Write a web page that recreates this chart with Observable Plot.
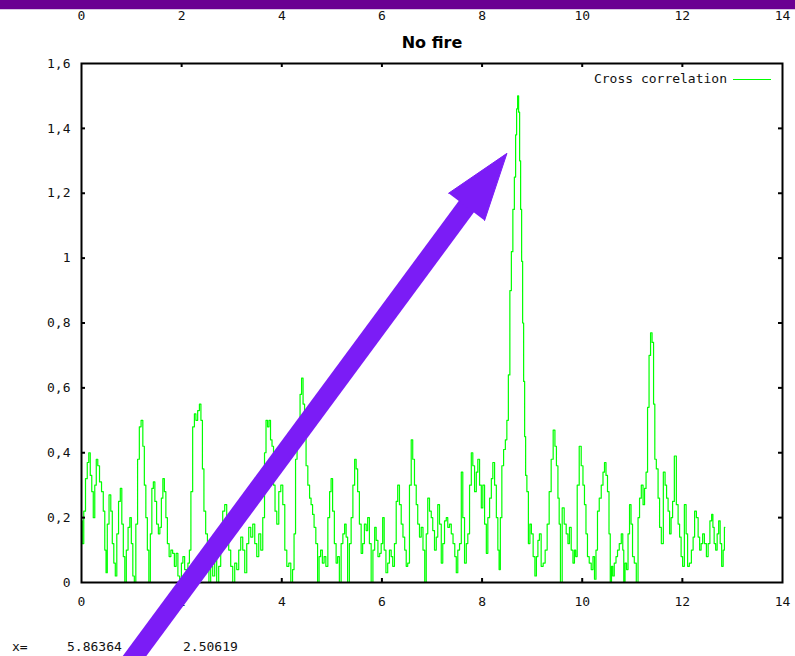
<!DOCTYPE html>
<html>
<head>
<meta charset="utf-8">
<script src="https://cdn.jsdelivr.net/npm/d3@7"></script>
<script src="https://cdn.jsdelivr.net/npm/@observablehq/plot@0.6"></script>
<style>
  html, body { margin: 0; padding: 0; background: #fff; overflow: hidden; }
  #wrap { position: relative; width: 795px; height: 656px; }
  .band { position: absolute; left: 0; top: 0; width: 795px; height: 9px; background: #6b0092; border-bottom: 1px solid #d9c4e3; }
  .txt { position: absolute; font-family: "DejaVu Sans Mono", monospace; font-size: 13px; line-height: 13px; color: #111; white-space: nowrap; }
  .legline { position: absolute; height: 1px; background: #00ff00; }
</style>
</head>
<body>
<div id="wrap"></div>
<script>
// ---- data ----
const seriesName = "Cross correlation";
const title = "No fire";
const lag = [0.00,0.03,0.06,0.10,0.13,0.16,0.19,0.22,0.25,0.28,0.31,0.34,0.38,0.42,0.45,0.48,0.50,0.53,0.57,0.60,0.63,0.66,0.69,0.72,0.76,0.79,0.82,0.85,0.88,0.91,0.95,0.98,1.01,1.04,1.07,1.10,1.14,1.17,1.21,1.24,1.27,1.30,1.33,1.36,1.39,1.42,1.45,1.48,1.52,1.55,1.58,1.61,1.64,1.67,1.70,1.73,1.77,1.80,1.84,1.87,1.91,1.94,1.98,2.01,2.04,2.08,2.11,2.14,2.17,2.20,2.24,2.27,2.30,2.34,2.37,2.40,2.43,2.46,2.50,2.53,2.56,2.60,2.64,2.68,2.72,2.76,2.80,2.84,2.88,2.92,2.96,3.00,3.04,3.08,3.12,3.16,3.20,3.24,3.28,3.32,3.36,3.40,3.44,3.48,3.52,3.56,3.60,3.64,3.67,3.70,3.73,3.76,3.79,3.82,3.85,3.88,3.92,3.96,4.00,4.04,4.08,4.12,4.16,4.20,4.23,4.26,4.29,4.32,4.35,4.38,4.41,4.44,4.47,4.50,4.54,4.57,4.60,4.63,4.66,4.70,4.73,4.76,4.79,4.83,4.86,4.90,4.94,4.97,5.00,5.03,5.07,5.10,5.13,5.17,5.20,5.24,5.27,5.30,5.33,5.37,5.40,5.44,5.47,5.50,5.53,5.57,5.60,5.63,5.67,5.70,5.73,5.77,5.80,5.84,5.87,5.90,5.94,5.97,6.00,6.03,6.06,6.10,6.13,6.17,6.20,6.23,6.27,6.30,6.33,6.37,6.40,6.44,6.47,6.50,6.53,6.57,6.60,6.63,6.67,6.70,6.73,6.77,6.80,6.84,6.87,6.90,6.93,6.97,7.00,7.03,7.07,7.10,7.13,7.17,7.20,7.23,7.27,7.30,7.33,7.37,7.40,7.44,7.47,7.50,7.53,7.57,7.60,7.63,7.67,7.70,7.73,7.77,7.80,7.83,7.87,7.90,7.93,7.97,8.00,8.03,8.07,8.10,8.13,8.17,8.20,8.23,8.27,8.30,8.33,8.35,8.38,8.41,8.45,8.48,8.51,8.54,8.57,8.60,8.63,8.66,8.68,8.70,8.72,8.74,8.76,8.78,8.80,8.82,8.84,8.86,8.88,8.91,8.94,8.97,9.00,9.04,9.07,9.10,9.13,9.16,9.20,9.24,9.28,9.32,9.36,9.40,9.44,9.47,9.50,9.53,9.55,9.58,9.62,9.66,9.70,9.73,9.76,9.80,9.83,9.86,9.88,9.92,9.96,10.00,10.03,10.06,10.09,10.12,10.16,10.20,10.23,10.26,10.29,10.32,10.36,10.40,10.43,10.46,10.49,10.52,10.55,10.57,10.60,10.62,10.66,10.69,10.72,10.76,10.80,10.82,10.84,10.87,10.90,10.93,10.96,10.99,11.02,11.06,11.10,11.13,11.16,11.20,11.23,11.26,11.29,11.32,11.35,11.38,11.41,11.44,11.46,11.50,11.53,11.56,11.60,11.64,11.67,11.70,11.73,11.76,11.79,11.82,11.86,11.90,11.93,11.96,11.99,12.02,12.06,12.09,12.12,12.16,12.20,12.23,12.26,12.30,12.33,12.36,12.39,12.42,12.46,12.50,12.53,12.57,12.60,12.62,12.65,12.68,12.71,12.74,12.77,12.80,12.83,12.85];
const corr = [0.19,0.12,0.22,0.32,0.37,0.40,0.33,0.28,0.20,0.30,0.38,0.36,0.31,0.28,0.22,0.10,0.03,0.18,0.27,0.22,0.12,0.06,0.02,0.15,0.25,0.29,0.18,0.08,0.00,0.10,0.17,0.20,0.12,0.02,0.00,0.18,0.38,0.48,0.50,0.42,0.30,0.20,0.10,0.00,0.15,0.29,0.31,0.25,0.18,0.15,0.17,0.26,0.32,0.28,0.20,0.12,0.08,0.10,0.09,0.05,0.09,0.02,0.00,0.06,0.08,0.04,0.02,0.06,0.10,0.28,0.48,0.52,0.50,0.53,0.55,0.50,0.35,0.22,0.15,0.08,0.00,0.05,0.02,0.08,0.00,0.05,0.15,0.22,0.24,0.15,0.10,0.05,0.00,0.06,0.04,0.10,0.14,0.10,0.03,0.12,0.17,0.14,0.18,0.12,0.08,0.15,0.10,0.20,0.40,0.50,0.48,0.50,0.44,0.42,0.30,0.22,0.18,0.28,0.30,0.24,0.10,0.05,0.06,0.00,0.04,0.15,0.38,0.48,0.44,0.58,0.63,0.55,0.45,0.36,0.30,0.26,0.24,0.21,0.17,0.12,0.00,0.08,0.10,0.06,0.08,0.05,0.20,0.28,0.32,0.22,0.12,0.06,0.08,0.00,0.12,0.15,0.18,0.14,0.00,0.12,0.20,0.30,0.38,0.35,0.28,0.18,0.09,0.12,0.18,0.16,0.20,0.12,0.00,0.10,0.17,0.13,0.08,0.09,0.12,0.20,0.10,0.03,0.06,0.10,0.08,0.05,0.12,0.25,0.30,0.24,0.18,0.14,0.10,0.05,0.06,0.30,0.44,0.38,0.30,0.24,0.18,0.14,0.17,0.10,0.00,0.15,0.26,0.22,0.20,0.16,0.10,0.14,0.24,0.18,0.06,0.12,0.19,0.20,0.17,0.18,0.15,0.12,0.08,0.03,0.10,0.12,0.34,0.20,0.06,0.12,0.15,0.30,0.40,0.36,0.28,0.34,0.38,0.30,0.23,0.30,0.18,0.09,0.20,0.26,0.32,0.37,0.30,0.20,0.10,0.04,0.20,0.36,0.41,0.44,0.50,0.64,0.90,1.02,1.15,1.25,1.38,1.46,1.50,1.45,1.30,1.15,0.99,0.80,0.62,0.45,0.33,0.28,0.12,0.18,0.15,0.08,0.02,0.08,0.13,0.15,0.05,0.06,0.10,0.18,0.28,0.38,0.47,0.42,0.36,0.26,0.18,0.00,0.23,0.18,0.15,0.12,0.17,0.10,0.06,0.10,0.08,0.30,0.42,0.36,0.30,0.24,0.15,0.08,0.06,0.04,0.08,0.01,0.10,0.22,0.26,0.30,0.34,0.37,0.33,0.28,0.15,0.00,0.05,0.02,0.06,0.08,0.10,0.12,0.15,0.10,0.00,0.06,0.04,0.15,0.24,0.18,0.08,0.06,0.00,0.20,0.26,0.30,0.24,0.29,0.34,0.54,0.70,0.77,0.74,0.55,0.38,0.35,0.26,0.17,0.12,0.34,0.30,0.26,0.22,0.15,0.20,0.25,0.39,0.24,0.18,0.14,0.08,0.05,0.24,0.15,0.05,0.06,0.10,0.14,0.22,0.20,0.14,0.10,0.12,0.15,0.12,0.08,0.12,0.19,0.21,0.17,0.12,0.10,0.15,0.19,0.12,0.05,0.10,0.17];

const xTicks = [0, 2, 4, 6, 8, 10, 12, 14];
const xTickLabels = ["0", "2", "4", "6", "8", "10", "12", "14"];
const yTicks = [0, 0.2, 0.4, 0.6, 0.8, 1.0, 1.2, 1.4, 1.6];
const yTickLabels = ["0", "0,2", "0,4", "0,6", "0,8", "1", "1,2", "1,4", "1,6"];

// overlay annotation arrow (data coordinates)
const arrowShaft = [{x: 0.90, y: -0.26}, {x: 7.73, y: 1.168}];
const arrowHead = [{x: 7.331, y: 1.200}, {x: 8.497, y: 1.323}, {x: 8.050, y: 1.116}];

// status-bar readout
const statusLabel = "x=";
const statusValues = ["5.86364", "2.50619"];

// ---- build ----
const data = lag.map((x, i) => ({x, y: corr[i]}));
const innerX = xTicks.slice(1, -1);
const innerY = yTicks.slice(1, -1);
const tx = 4 / 50.1, ty = 4 / 324.4;
const purple = "#7b1cf6";

const chart = Plot.plot({
  width: 795,
  height: 656,
  marginLeft: 81,
  marginRight: 13,
  marginTop: 63,
  marginBottom: 74,
  style: {fontFamily: "'DejaVu Sans Mono', monospace", fontSize: "13px", background: "transparent", color: "#111"},
  x: {domain: [0, 14], label: null},
  y: {domain: [0, 1.6], label: null},
  marks: [
    Plot.line(data, {x: "x", y: "y", stroke: "#00ff00", strokeWidth: 1.2, curve: "step"}),
    Plot.frame({stroke: "#000", strokeWidth: 2}),
    Plot.ruleX(innerX, {x: d => d, y1: 0, y2: ty, stroke: "#000", strokeWidth: 2}),
    Plot.ruleX(innerX, {x: d => d, y1: 1.6, y2: 1.6 - ty, stroke: "#000", strokeWidth: 2}),
    Plot.ruleY(innerY, {y: d => d, x1: 0, x2: tx, stroke: "#000", strokeWidth: 2}),
    Plot.ruleY(innerY, {y: d => d, x1: 14, x2: 14 - tx, stroke: "#000", strokeWidth: 2}),
    Plot.axisX(xTicks, {anchor: "bottom", tickSize: 0, tickPadding: 14, label: null,
      tickFormat: d => xTickLabels[xTicks.indexOf(d)]}),
    Plot.axisX(xTicks, {anchor: "top", tickSize: 0, tickPadding: 44, label: null,
      tickFormat: d => xTickLabels[xTicks.indexOf(d)]}),
    Plot.axisY(yTicks, {anchor: "left", tickSize: 0, tickPadding: 11, label: null,
      tickFormat: d => yTickLabels[yTicks.indexOf(d)]}),
    Plot.text([title], {frameAnchor: "top", dy: -16, lineAnchor: "bottom",
      fontFamily: "'DejaVu Sans', sans-serif", fontWeight: "bold", fontSize: 16, fill: "#000"}),
    Plot.line(arrowShaft, {x: "x", y: "y", stroke: purple, strokeWidth: 19, strokeLinecap: "butt"}),
    Plot.line(arrowHead, {x: "x", y: "y", fill: purple, stroke: purple, strokeWidth: 1})
  ]
});

const wrap = document.getElementById("wrap");
wrap.appendChild(chart);

const band = document.createElement("div");
band.className = "band";
wrap.appendChild(band);

function addText(str, left, baseline, right) {
  const d = document.createElement("div");
  d.className = "txt";
  d.textContent = str;
  d.style.top = (baseline - 11) + "px";
  if (right != null) { d.style.right = (795 - right) + "px"; } else { d.style.left = left + "px"; }
  wrap.appendChild(d);
}
// legend
addText(seriesName, null, 83, 727);
const ll = document.createElement("div");
ll.className = "legline";
ll.style.left = "733px"; ll.style.top = "79px"; ll.style.width = "38px";
wrap.appendChild(ll);
// status readout
addText(statusLabel, 12, 651);
addText(statusValues[0], 67, 651);
addText(statusValues[1], 183, 651);
</script>
</body>
</html>
